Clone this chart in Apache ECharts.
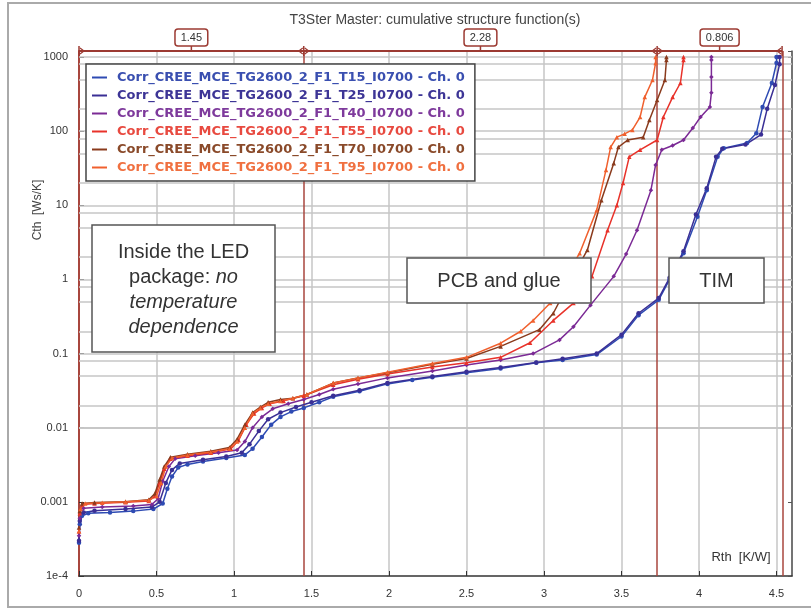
<!DOCTYPE html>
<html><head><meta charset="utf-8">
<script src="https://cdn.jsdelivr.net/npm/echarts@6/dist/echarts.min.js"></script>
<style>html,body{margin:0;padding:0;background:#fff}#c{width:811px;height:610px}</style>
</head><body><div id="c"></div>
<script>
// ---- data ----
const seriesNames = [
  'Corr_CREE_MCE_TG2600_2_F1_T15_I0700 - Ch. 0',
  'Corr_CREE_MCE_TG2600_2_F1_T25_I0700 - Ch. 0',
  'Corr_CREE_MCE_TG2600_2_F1_T40_I0700 - Ch. 0',
  'Corr_CREE_MCE_TG2600_2_F1_T55_I0700 - Ch. 0',
  'Corr_CREE_MCE_TG2600_2_F1_T70_I0700 - Ch. 0',
  'Corr_CREE_MCE_TG2600_2_F1_T95_I0700 - Ch. 0'
];
const seriesColors = ['#2e4bb3','#3a2f95','#7b2a95','#e8322a','#8a3a1c','#f0602e'];
const legendTextColors = ['#3a4fb0','#3d3596','#7e3a9c','#e84a40','#8a4a2a','#f07040'];

const T15 = [[0,0.00028],[0.005,0.0005],[0.02,0.00065],[0.06,0.0007],[0.2,0.00072],[0.35,0.00075],[0.48,0.0008],[0.54,0.00095],[0.57,0.0015],[0.6,0.0022],[0.64,0.0029],[0.7,0.0032],[0.8,0.0035],[0.95,0.0039],[1.07,0.0043],[1.12,0.0052],[1.18,0.0075],[1.24,0.011],[1.3,0.014],[1.37,0.0165],[1.45,0.0185],[1.55,0.022],[1.64,0.0262],[1.81,0.031],[1.99,0.039],[2.15,0.044],[2.28,0.048],[2.5,0.055],[2.72,0.063],[2.95,0.075],[3.12,0.082],[3.34,0.097],[3.5,0.17],[3.61,0.33],[3.74,0.53],[3.81,0.99],[3.9,2.26],[3.99,7],[4.05,16],[4.12,45],[4.16,59],[4.31,69],[4.37,94],[4.41,212],[4.47,446],[4.5,830],[4.5,1000]];
const T25 = [[0,0.0003],[0.005,0.00055],[0.03,0.00072],[0.1,0.00076],[0.3,0.0008],[0.47,0.00085],[0.52,0.001],[0.56,0.0018],[0.6,0.0027],[0.65,0.0033],[0.8,0.0037],[0.95,0.0041],[1.05,0.0046],[1.1,0.006],[1.16,0.009],[1.22,0.013],[1.3,0.016],[1.4,0.019],[1.5,0.022],[1.64,0.027],[1.81,0.032],[1.99,0.04],[2.28,0.049],[2.5,0.057],[2.72,0.065],[2.95,0.076],[3.12,0.085],[3.34,0.1],[3.5,0.18],[3.61,0.35],[3.74,0.56],[3.81,1.05],[3.9,2.4],[3.98,7.5],[4.05,17],[4.11,45],[4.15,58],[4.3,66],[4.4,90],[4.44,200],[4.49,420],[4.52,800],[4.52,1000]];
const T40 = [[0,0.00035],[0.005,0.0006],[0.03,0.00082],[0.15,0.00085],[0.35,0.00088],[0.47,0.00092],[0.51,0.0011],[0.54,0.0019],[0.58,0.003],[0.62,0.0038],[0.75,0.0042],[0.9,0.0046],[1.02,0.005],[1.07,0.0065],[1.12,0.01],[1.18,0.014],[1.25,0.018],[1.35,0.021],[1.45,0.024],[1.55,0.028],[1.64,0.033],[1.8,0.039],[1.99,0.047],[2.28,0.058],[2.5,0.07],[2.72,0.082],[2.93,0.1],[3.1,0.153],[3.19,0.23],[3.3,0.45],[3.45,1.1],[3.53,2.2],[3.6,4.6],[3.69,16],[3.72,35],[3.76,56],[3.83,64],[3.9,76],[3.96,110],[4.01,155],[4.07,212],[4.08,330],[4.08,537],[4.08,910],[4.08,1000]];
const T55 = [[0,0.0004],[0.005,0.0007],[0.02,0.00092],[0.1,0.00095],[0.3,0.00099],[0.45,0.00103],[0.49,0.0012],[0.52,0.0018],[0.55,0.0028],[0.59,0.0038],[0.7,0.0042],[0.85,0.0046],[0.98,0.0052],[1.03,0.0068],[1.08,0.011],[1.13,0.0155],[1.18,0.0185],[1.23,0.021],[1.32,0.023],[1.45,0.027],[1.64,0.038],[1.8,0.045],[1.99,0.053],[2.28,0.066],[2.5,0.075],[2.72,0.089],[2.91,0.14],[3.06,0.28],[3.19,0.48],[3.31,1.1],[3.41,4.6],[3.47,10],[3.51,20],[3.55,45],[3.62,56],[3.73,76],[3.77,155],[3.83,288],[3.88,446],[3.9,910],[3.9,1000]];
const T70 = [[0,0.00045],[0.005,0.00075],[0.02,0.00095],[0.1,0.00098],[0.3,0.001],[0.45,0.00107],[0.49,0.0013],[0.52,0.002],[0.55,0.003],[0.59,0.004],[0.7,0.0044],[0.85,0.0048],[0.97,0.0054],[1.02,0.007],[1.07,0.011],[1.12,0.016],[1.17,0.019],[1.22,0.022],[1.3,0.024],[1.38,0.025],[1.47,0.028],[1.64,0.04],[1.8,0.047],[1.99,0.055],[2.28,0.072],[2.5,0.086],[2.72,0.125],[2.97,0.21],[3.06,0.35],[3.15,0.8],[3.28,2.5],[3.37,11.7],[3.45,37],[3.48,61],[3.54,76],[3.64,83],[3.68,141],[3.73,263],[3.78,490],[3.79,910],[3.79,1000]];
const T95 = [[0,0.0004],[0.01,0.0008],[0.04,0.00095],[0.15,0.00097],[0.3,0.001],[0.45,0.00105],[0.5,0.0012],[0.53,0.0018],[0.56,0.003],[0.6,0.0039],[0.7,0.0043],[0.85,0.0047],[0.97,0.0052],[1.02,0.0065],[1.07,0.01],[1.12,0.0155],[1.17,0.0185],[1.22,0.021],[1.3,0.023],[1.38,0.025],[1.47,0.028],[1.64,0.04],[1.8,0.047],[1.99,0.056],[2.28,0.0735],[2.5,0.089],[2.72,0.138],[2.85,0.2],[2.93,0.28],[3.04,0.48],[3.23,2.26],[3.34,8.6],[3.4,30],[3.43,61],[3.47,83],[3.52,92],[3.57,104],[3.62,155],[3.65,288],[3.7,490],[3.72,830],[3.72,1000]];
const seriesData = [T15, T25, T40, T55, T70, T95];
const seriesSymbols = ['circle','circle','diamond','triangle','triangle','triangle'];

const xTickValues = [0,0.5,1,1.5,2,2.5,3,3.5,4,4.5];
const xTickLabels = ['0','0.5','1','1.5','2','2.5','3','3.5','4','4.5'];
const yTickLabels = ['1e-4','0.001','0.01','0.1','1','10','100','1000']; // exponents -4..3
const gridValues = [1e-4,2e-4,5e-4,8e-4,1e-3,2e-3,5e-3,8e-3,0.01,0.02,0.05,0.08,0.1,0.2,0.5,0.8,1,2,5,8,10,20,50,80,100,200,500,800,1000];
const bracketBounds = [0, 1.45, 3.73, 4.536];
const bracketLabels = ['1.45','2.28','0.806'];
const xMin = 0, xMax = 4.6, yMin = 1e-4, yMax = 1205;

// ---- chart ----
const FONT = 'Liberation Sans, Arial, sans-serif';
const chart = echarts.init(document.getElementById('c'));
const series = [{
  type: 'line', data: [], z: 1, silent: true,
  markLine: {
    silent: true, symbol: 'none', animation: false,
    label: {show: false},
    lineStyle: {color: '#c6c6c6', width: 1.5, type: 'solid'},
    data: gridValues.map(v => ({yAxis: v}))
  }
}, {
  type: 'line', data: [], z: 3, silent: true,
  markLine: {
    silent: true, symbol: 'none', animation: false,
    label: {show: false},
    lineStyle: {color: '#a8463e', width: 1.5, type: 'solid'},
    data: bracketBounds.slice(1).map(v => ({xAxis: v}))
  }
}];
seriesNames.forEach((n, i) => series.push({
  name: n, type: 'line', data: seriesData[i], z: 5,
  symbol: seriesSymbols[i], symbolSize: 4.5, showSymbol: true,
  lineStyle: {color: seriesColors[i], width: 1.5},
  itemStyle: {color: seriesColors[i]},
  animation: false
}));

const option = {
  animation: false,
  backgroundColor: '#fff',
  title: {
    text: 'T3Ster Master: cumulative structure function(s)',
    left: 430, top: 8, textAlign: 'center',
    textStyle: {fontFamily: FONT, fontSize: 14, fontWeight: 'normal', color: '#444'}
  },
  legend: {
    orient: 'vertical', left: 86, top: 64,
    icon: 'rect', itemWidth: 15, itemHeight: 2, itemGap: 5,
    padding: [7, 10, 7, 6],
    borderColor: '#444', borderWidth: 1.5, backgroundColor: '#fff',
    textStyle: {fontFamily: 'DejaVu Sans, sans-serif', fontSize: 13, fontWeight: 'bold', padding: [0, 0, 0, 5]},
    data: seriesNames.map((n, i) => ({name: n, textStyle: {color: legendTextColors[i]}})),
    z: 10
  },
  grid: {left: 79, right: 19, top: 51, bottom: 34, containLabel: false},
  xAxis: {
    type: 'value', min: xMin, max: xMax, interval: 0.5,
    axisLine: {show: true, lineStyle: {color: '#333', width: 1.5}},
    axisTick: {show: true, inside: true, length: 5, lineStyle: {color: '#333'}},
    axisLabel: {
      fontFamily: FONT, fontSize: 11, color: '#333', margin: 12, showMaxLabel: false,
      formatter: v => { const k = xTickValues.findIndex(t => Math.abs(t - v) < 1e-6); return k >= 0 ? xTickLabels[k] : ''; }
    },
    splitLine: {show: true, lineStyle: {color: '#c6c6c6', width: 1.5}}
  },
  yAxis: [{
    type: 'log', logBase: 10, min: yMin, max: yMax,
    axisLine: {show: true, lineStyle: {color: '#a8463e', width: 2}},
    axisTick: {show: true, inside: true, length: 5, lineStyle: {color: '#333'}},
    axisLabel: {
      fontFamily: FONT, fontSize: 11, color: '#333', margin: 11,
      formatter: v => { const e = Math.log10(v); const r = Math.round(e); return (Math.abs(e - r) < 1e-6 && r >= -4 && r <= 3) ? yTickLabels[r + 4] : ''; }
    },
    splitLine: {show: false}
  }, {
    type: 'log', logBase: 10, min: yMin, max: yMax, position: 'right',
    axisLine: {show: true, lineStyle: {color: '#555', width: 1.5}},
    axisTick: {show: true, inside: true, length: 4, lineStyle: {color: '#555'}},
    axisLabel: {show: false}, splitLine: {show: false}
  }],
  series: series
};
chart.setOption(option);

// ---- overlays positioned from the chart's own scales ----
const px = v => chart.convertToPixel({xAxisIndex: 0}, v);
const py = v => chart.convertToPixel({yAxisIndex: 0}, v);
const topY = py(yMax), botY = py(yMin);
const RED = '#9c3a32';
const g = [];
// outer frame
g.push({type: 'rect', shape: {x: 8, y: 3, width: 810, height: 604}, style: {fill: 'none', stroke: '#aaa', lineWidth: 2}, z: 0, silent: true});
// bracket line
const bx0 = px(bracketBounds[0]), bx1 = px(bracketBounds[bracketBounds.length - 1]);
g.push({type: 'line', shape: {x1: bx0, y1: topY, x2: bx1, y2: topY}, style: {stroke: RED, lineWidth: 2}, z: 20});
bracketBounds.forEach((b, i) => {
  const x = px(b);
  g.push({type: 'line', shape: {x1: x, y1: topY - 5, x2: x, y2: topY + 5}, style: {stroke: RED, lineWidth: 1.5}, z: 20});
  if (i < bracketBounds.length - 1) g.push({type: 'polyline', shape: {points: [[x + 1, topY - 3], [x + 5, topY], [x + 1, topY + 3]]}, style: {stroke: RED, fill: 'none', lineWidth: 1.2}, z: 20});
  if (i > 0) g.push({type: 'polyline', shape: {points: [[x - 1, topY - 3], [x - 5, topY], [x - 1, topY + 3]]}, style: {stroke: RED, fill: 'none', lineWidth: 1.2}, z: 20});
});
bracketLabels.forEach((t, i) => {
  const cx = px((bracketBounds[i] + bracketBounds[i + 1]) / 2);
  const w = t.length * 6.2 + 8;
  g.push({type: 'line', shape: {x1: cx, y1: 46, x2: cx, y2: topY}, style: {stroke: RED, lineWidth: 1.5}, z: 20});
  g.push({type: 'rect', shape: {x: cx - w / 2, y: 29, width: w, height: 17, r: 3}, style: {fill: '#fff', stroke: RED, lineWidth: 1.5}, z: 20});
  g.push({type: 'text', x: cx, y: 37.5, style: {text: t, fill: '#333', font: '11px ' + FONT, align: 'center', verticalAlign: 'middle'}, z: 21});
});
// axis names
g.push({type: 'text', x: 38, y: 210, rotation: Math.PI / 2, style: {text: 'Cth  [Ws/K]', fill: '#444', font: '12px ' + FONT, align: 'center', verticalAlign: 'middle'}, z: 20});
g.push({type: 'text', x: 741, y: 557, style: {text: 'Rth  [K/W]', fill: '#333', font: '13px ' + FONT, align: 'center', verticalAlign: 'middle', backgroundColor: '#fff', padding: [1, 2]}, z: 20});
// annotation boxes
const boxes = [
  {x: 92, y: 225, w: 183, h: 127, text: 'Inside the LED\npackage: {i|no}\n{i|temperature}\n{i|dependence}'},
  {x: 407, y: 258, w: 184, h: 45, text: 'PCB and glue'},
  {x: 669, y: 258, w: 95, h: 45, text: 'TIM'}
];
boxes.forEach(b => {
  g.push({type: 'rect', shape: {x: b.x, y: b.y, width: b.w, height: b.h}, style: {fill: '#fff', stroke: '#555', lineWidth: 1.5}, z: 30});
  g.push({type: 'text', x: b.x + b.w / 2, y: b.y + b.h / 2 + 1, style: {
    text: b.text, fill: '#333', font: '20px ' + FONT, align: 'center', verticalAlign: 'middle', lineHeight: 25,
    rich: {i: {fontStyle: 'italic', fontSize: 20, fontFamily: FONT, fill: '#333', lineHeight: 25}}
  }, z: 31});
});
chart.setOption({graphic: {elements: g}});
</script>
</body></html>
